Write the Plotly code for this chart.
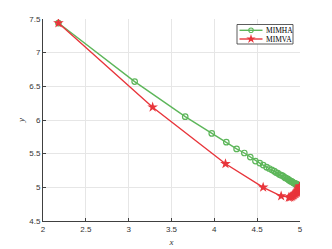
import plotly.graph_objects as go

# MIMHA series
mimha_x = [2.18, 3.07, 3.66, 3.97, 4.14, 4.26, 4.35, 4.42, 4.48, 4.53, 4.57,
           4.61, 4.64, 4.67, 4.70, 4.72, 4.74, 4.76, 4.78, 4.80, 4.82, 4.83,
           4.85, 4.86, 4.87, 4.88, 4.89, 4.90, 4.91, 4.92, 4.93, 4.94, 4.95,
           4.955, 4.96, 4.965, 4.97, 4.975, 4.98, 4.985, 4.99, 4.995, 5.0]
mimha_y = [7.44, 6.57, 6.05, 5.80, 5.67, 5.57, 5.51, 5.45, 5.39, 5.36, 5.33,
           5.30, 5.28, 5.26, 5.24, 5.22, 5.21, 5.19, 5.18, 5.17, 5.15, 5.14,
           5.13, 5.12, 5.11, 5.10, 5.09, 5.09, 5.08, 5.07, 5.06, 5.06, 5.05,
           5.05, 5.04, 5.04, 5.04, 5.03, 5.03, 5.03, 5.02, 5.02, 5.02]

# MIMVA series
mimva_x = [2.18, 3.28, 4.13, 4.57, 4.78, 4.87, 4.885, 4.90, 4.91, 4.92, 4.93,
           4.94, 4.95, 4.96, 4.965, 4.97, 4.975, 4.98, 4.985, 4.99, 4.993,
           4.996, 5.0, 5.003]
mimva_y = [7.44, 6.19, 5.35, 5.00, 4.87, 4.85, 4.855, 4.86, 4.87, 4.88, 4.89,
           4.90, 4.91, 4.92, 4.93, 4.94, 4.95, 4.96, 4.97, 4.98, 4.99,
           5.00, 5.01, 5.02]

series_names = ["MIMHA", "MIMVA"]

x_ticks = [2, 2.5, 3, 3.5, 4, 4.5, 5]
x_tick_text = ["2", "2.5", "3", "3.5", "4", "4.5", "5"]
y_ticks = [4.5, 5, 5.5, 6, 6.5, 7, 7.5]
y_tick_text = ["4.5", "5", "5.5", "6", "6.5", "7", "7.5"]

green = "#5DB65A"
red = "#E8353B"
colors = [green, red]
marker_styles = [
    dict(symbol="circle-open", size=5.5, line=dict(width=1.2)),
    dict(symbol="star", size=8, line=dict(width=0)),
]
legend_marker_styles = [
    dict(symbol="circle-open", size=4.5, line=dict(width=1.1)),
    dict(symbol="star", size=7, line=dict(width=0)),
]

fig = go.Figure()
for name, xs, ys, col, ms in zip(series_names, [mimha_x, mimva_x], [mimha_y, mimva_y],
                                 colors, marker_styles):
    fig.add_trace(go.Scatter(
        x=xs, y=ys, mode="lines+markers", name=name, showlegend=False,
        line=dict(color=col, width=1.4),
        marker=dict(color=col, **ms),
    ))

# Compact legend (MATLAB-style) drawn in a pixel-based overlay axis
L, R, T, B = 43, 300, 19, 221
bx0, bx1, by0, by1 = 237, 293, 24.5, 44
row_y = [30.3, 39.0]
fig.add_trace(go.Scatter(
    x=[bx0, bx1, bx1, bx0, bx0], y=[by0, by0, by1, by1, by0], xaxis="x2", yaxis="y2",
    mode="lines", fill="toself", fillcolor="white",
    line=dict(color="#333333", width=0.8), showlegend=False,
    hoverinfo="skip", cliponaxis=False,
))
for name, col, ms, ry in zip(series_names, colors, legend_marker_styles, row_y):
    fig.add_trace(go.Scatter(
        x=[239.5, 251, 262.5], y=[ry, ry, ry], xaxis="x2", yaxis="y2",
        mode="lines", line=dict(color=col, width=1.4), showlegend=False,
        hoverinfo="skip", cliponaxis=False,
    ))
    fig.add_trace(go.Scatter(
        x=[251], y=[ry], xaxis="x2", yaxis="y2",
        mode="markers", marker=dict(color=col, **ms), showlegend=False,
        hoverinfo="skip", cliponaxis=False,
    ))
    fig.add_annotation(
        x=264, y=ry, xref="x2", yref="y2", text=name, showarrow=False,
        xanchor="left", yanchor="middle",
        font=dict(family="Liberation Serif, Times New Roman, serif", size=7.5, color="black"),
    )

axis_common = dict(
    showgrid=True, gridcolor="#E6E6E6", gridwidth=1,
    showline=True, linecolor="#404040", linewidth=1, mirror=False,
    ticks="inside", ticklen=3, tickcolor="#404040",
    tickfont=dict(family="Liberation Sans, Arial, sans-serif", size=8, color="#333333"),
    zeroline=False, automargin=False,
)

fig.update_layout(
    width=332, height=249,
    margin=dict(l=L, r=332 - R, t=T, b=249 - B, autoexpand=False),
    paper_bgcolor="white", plot_bgcolor="white",
    showlegend=False,
    xaxis=dict(range=[2, 5], tickvals=x_ticks, ticktext=x_tick_text,
               title=dict(text="<i>x</i>", standoff=6,
                          font=dict(family="Liberation Serif, serif", size=9, color="#333333")),
               **axis_common),
    yaxis=dict(range=[4.5, 7.5], tickvals=y_ticks, ticktext=y_tick_text,
               title=dict(text="<i>y</i>", standoff=3,
                          font=dict(family="Liberation Serif, serif", size=9, color="#333333")),
               **axis_common),
    xaxis2=dict(overlaying="x", range=[L, R], visible=False, fixedrange=True),
    yaxis2=dict(overlaying="y", range=[B, T], visible=False, fixedrange=True),
)

fig.write_html("out.html", config={"displayModeBar": False},
               post_script="document.body.style.margin='0';document.body.style.padding='0';")
